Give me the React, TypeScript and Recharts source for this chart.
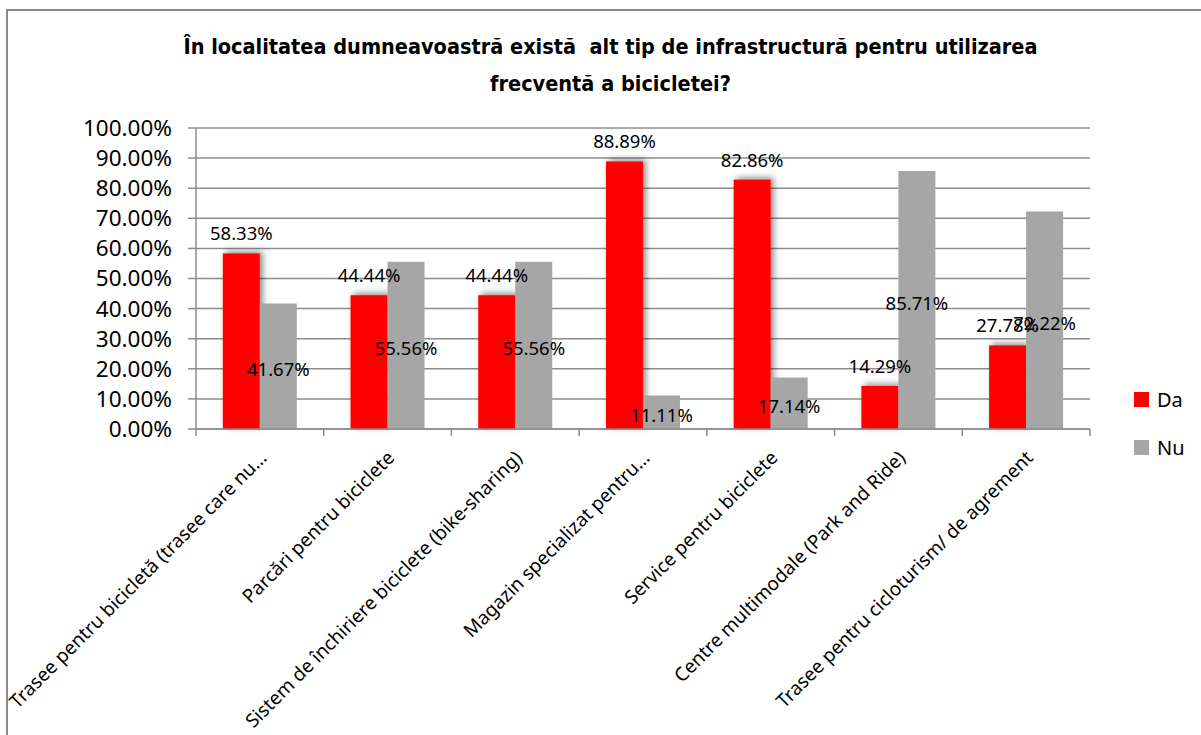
import React from 'react';
import { BarChart, Bar, XAxis, YAxis, CartesianGrid, LabelList } from 'recharts';

const categories = [
  'Trasee pentru bicicletă (trasee care nu…',
  'Parcări pentru biciclete',
  'Sistem de închiriere biciclete (bike-sharing)',
  'Magazin specializat pentru…',
  'Service pentru biciclete',
  'Centre multimodale (Park and Ride)',
  'Trasee pentru cicloturism/ de agrement',
];
const daValues = [58.33, 44.44, 44.44, 88.89, 82.86, 14.29, 27.78];
const nuValues = [41.67, 55.56, 55.56, 11.11, 17.14, 85.71, 72.22];
const yTicks = [0, 10, 20, 30, 40, 50, 60, 70, 80, 90, 100];

const SERIES = [
  { key: 'Da', color: '#FF0000' },
  { key: 'Nu', color: '#A6A6A6' },
];

const FONT = '"Noto Sans", "Open Sans", sans-serif';
const AXIS_COLOR = '#8C8C8C';
const PLOT_W = 894;
const HALF_BAND = PLOT_W / categories.length / 2;

const data = categories.map((name, i) => ({ name, Da: daValues[i], Nu: nuValues[i] }));

const pct = (v: any) => (typeof v === 'number' ? `${v.toFixed(2)}%` : v);

// category label, rotated, plus the boundary tick marks Excel draws between groups
const CategoryTick = (props: any) => {
  const { x, y, payload, index } = props;
  const lx = x + 8;
  const ly = y + 30;
  return (
    <g>
      <line x1={x - HALF_BAND} y1={y} x2={x - HALF_BAND} y2={y + 7} stroke={AXIS_COLOR} strokeWidth={1.5} />
      {index === categories.length - 1 && (
        <line x1={x + HALF_BAND} y1={y} x2={x + HALF_BAND} y2={y + 7} stroke={AXIS_COLOR} strokeWidth={1.5} />
      )}
      <text
        x={lx}
        y={ly}
        transform={`rotate(-45, ${lx}, ${ly})`}
        textAnchor="end"
        fontSize={19}
        fontFamily={FONT}
        fill="#000"
      >
        {payload.value}
      </text>
    </g>
  );
};

// red bars get a soft shadow like the original
const ShadowBar = (props: any) => {
  const { x, y, width, height, fill } = props;
  if (!height || height <= 0) return null;
  return (
    <g>
      <defs>
        <filter id="barShadow" x="-50%" y="-50%" width="200%" height="200%">
          <feDropShadow dx="3" dy="-2" stdDeviation="3" floodColor="#000" floodOpacity="0.45" />
        </filter>
      </defs>
      <rect x={x} y={y} width={width} height={height} fill={fill} filter="url(#barShadow)" />
    </g>
  );
};

export default function App() {
  return (
    <div style={{ position: 'absolute', left: 0, top: 0, width: 1201, height: 735, overflow: 'hidden', background: '#fff' }}>
      <div
        style={{
          position: 'absolute',
          left: 6,
          top: 9,
          width: 1300,
          height: 800,
          border: '2px solid #8A8A8A',
        }}
      />
      <div
        style={{
          position: 'absolute',
          left: 10,
          top: 28,
          width: 1201,
          textAlign: 'center',
          fontFamily: '"DejaVu Sans Condensed", "Liberation Sans Narrow", sans-serif',
          fontWeight: 'bold',
          fontSize: 21.5,
          lineHeight: '37px',
          color: '#000',
        }}
      >
        În localitatea dumneavoastră există&nbsp; alt tip de infrastructură pentru utilizarea
        <br />
        frecventă a bicicletei?
      </div>

      <div style={{ position: 'absolute', left: 0, top: 0 }}>
        <BarChart
          width={1201}
          height={735}
          data={data}
          margin={{ top: 128, right: 111, bottom: 16, left: 96 }}
          barCategoryGap="21%"
          barGap={0}
        >
          <CartesianGrid vertical={false} stroke={AXIS_COLOR} strokeWidth={1.5} />
          <XAxis
            dataKey="name"
            interval={0}
            height={290}
            tickLine={false}
            tickSize={0}
            tickMargin={0}
            axisLine={{ stroke: AXIS_COLOR, strokeWidth: 1.5 }}
            tick={<CategoryTick />}
          />
          <YAxis
            width={100}
            domain={[0, 100]}
            ticks={yTicks}
            interval={0}
            tickFormatter={pct}
            tickSize={8}
            tickMargin={16}
            axisLine={{ stroke: AXIS_COLOR, strokeWidth: 1.5 }}
            tickLine={{ stroke: AXIS_COLOR, strokeWidth: 1.5 }}
            tick={{ fontSize: 22.5, fontFamily: FONT, fill: '#000' }}
          />
          <Bar dataKey="Da" fill={SERIES[0].color} isAnimationActive={false} shape={<ShadowBar />}>
            <LabelList dataKey="Da" position="top" offset={13} formatter={pct} fontSize={18.5} fontFamily={FONT} fill="#000" />
          </Bar>
          <Bar dataKey="Nu" fill={SERIES[1].color} isAnimationActive={false}>
            <LabelList dataKey="Nu" position="center" dy={3} formatter={pct} fontSize={18.5} fontFamily={FONT} fill="#000" />
          </Bar>
        </BarChart>
      </div>

      <div style={{ position: 'absolute', left: 1134, top: 386, fontFamily: FONT, fontSize: 20, color: '#000' }}>
        {SERIES.map((s) => (
          <div key={s.key} style={{ display: 'flex', alignItems: 'center', height: 26, marginBottom: 22 }}>
            <span style={{ display: 'inline-block', width: 15, height: 15, background: s.color, marginRight: 8 }} />
            <span>{s.key}</span>
          </div>
        ))}
      </div>
    </div>
  );
}
